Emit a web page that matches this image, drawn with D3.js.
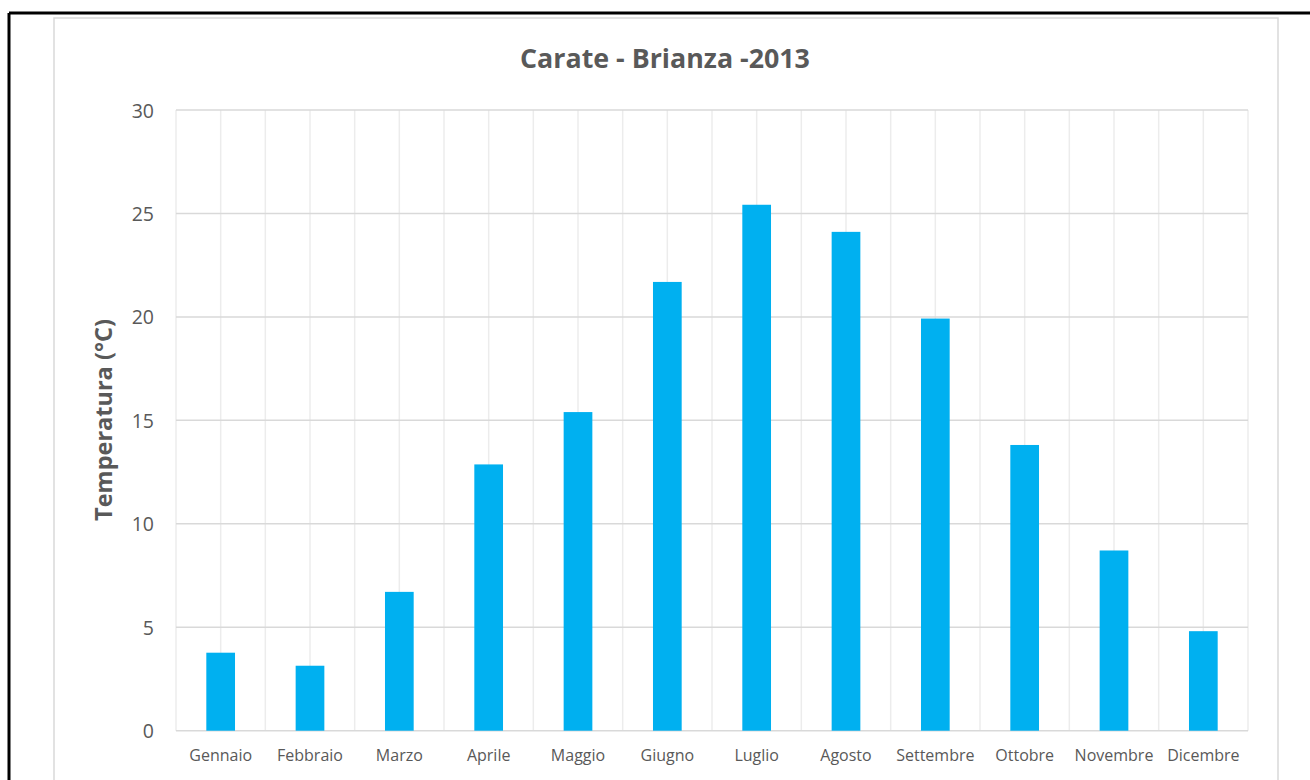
<!DOCTYPE html>
<html><head><meta charset="utf-8">
<script src="https://cdn.jsdelivr.net/npm/d3@7"></script>
<style>
html,body{margin:0;padding:0;background:#fff;}
svg{display:block;}
text{font-family:"Open Sans","Noto Sans",sans-serif;}
</style></head>
<body>
<svg id="c" width="1310" height="780"></svg>
<script>
const months = ["Gennaio","Febbraio","Marzo","Aprile","Maggio","Giugno","Luglio","Agosto","Settembre","Ottobre","Novembre","Dicembre"];
const temps = [3.77,3.14,6.71,12.87,15.40,21.69,25.42,24.11,19.92,13.81,8.71,4.81];
const yTicks = [0,5,10,15,20,25,30];
const title = "Carate - Brianza -2013";
const yLabel = "Temperatura (°C)";

const svg = d3.select("#c");
// outer black frame (top and left)
svg.append("line").attr("x1",9).attr("x2",1310).attr("y1",13).attr("y2",13).attr("stroke","#000").attr("stroke-width",3);
svg.append("line").attr("x1",9).attr("x2",9).attr("y1",13).attr("y2",780).attr("stroke","#000").attr("stroke-width",3);
// chart area border
svg.append("rect").attr("x",54).attr("y",18).attr("width",1224).attr("height",800)
  .attr("fill","#fff").attr("stroke","#d9d9d9").attr("stroke-width",1.5);

const L=176, R=1248, T=110, B=730.7;
const x = d3.scaleBand().domain(months).range([L,R]).paddingInner(0).paddingOuter(0);
const y = d3.scaleLinear().domain([0,30]).range([B,T]);

// vertical gridlines at band boundaries and centers
const vx = [];
months.forEach(m=>{ vx.push(x(m)); vx.push(x(m)+x.bandwidth()/2); });
vx.push(R);
svg.append("g").selectAll("line").data(vx).join("line")
  .attr("x1",d=>d).attr("x2",d=>d).attr("y1",T).attr("y2",B)
  .attr("stroke","#ececec").attr("stroke-width",1.5);
// horizontal gridlines
svg.append("g").selectAll("line").data(yTicks).join("line")
  .attr("x1",L).attr("x2",R).attr("y1",d=>y(d)).attr("y2",d=>y(d))
  .attr("stroke","#d9d9d9").attr("stroke-width",1.5);

// bars
const bw = 28.7;
svg.append("g").selectAll("rect").data(temps).join("rect")
  .attr("x",(d,i)=>x(months[i])+x.bandwidth()/2-bw/2)
  .attr("width",bw)
  .attr("y",d=>y(d))
  .attr("height",d=>B-y(d))
  .attr("fill","#00b0f0");

// y axis ticks
const yAxis = d3.axisLeft(y).tickValues(yTicks).tickSize(0).tickPadding(0);
const gy = svg.append("g").attr("transform",`translate(154,0)`).call(yAxis);
gy.select(".domain").remove();
gy.selectAll("text").attr("font-size",19.5).attr("fill","#595959")
  .style("font-family","'Open Sans','Noto Sans',sans-serif").attr("dy","0.36em");

// x axis labels
const xAxis = d3.axisBottom(x).tickSize(0).tickPadding(0);
const gx = svg.append("g").attr("transform",`translate(0,${B})`).call(xAxis);
gx.select(".domain").remove();
gx.selectAll("text").attr("font-size",16).attr("fill","#595959").attr("y",30.5).attr("dy",0)
  .style("font-family","'Open Sans','Noto Sans',sans-serif");

// title
svg.append("text").attr("x",665).attr("y",68).attr("text-anchor","middle")
  .attr("font-size",26.8).attr("font-weight","bold").attr("fill","#595959").text(title);
// y label
svg.append("text").attr("transform","translate(112,420) rotate(-90)").attr("text-anchor","middle")
  .attr("font-size",23.5).attr("font-weight","bold").attr("fill","#595959").text(yLabel);
</script>
</body></html>
